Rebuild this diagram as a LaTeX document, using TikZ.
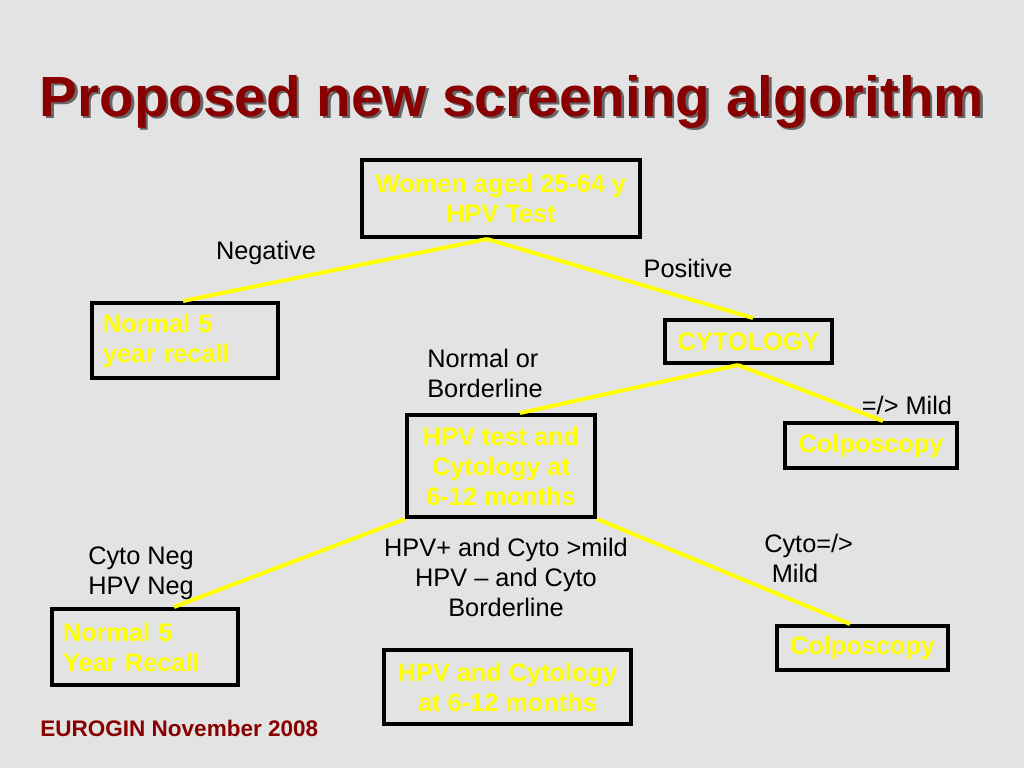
\documentclass[tikz,border=0pt]{standalone}
\usepackage{fontspec}
\setmainfont{Liberation Sans}
\usetikzlibrary{calc}
\definecolor{bg}{RGB}{227,227,227}
\definecolor{ttl}{RGB}{136,0,0}
\definecolor{yel}{RGB}{255,255,0}
\begin{document}
\begin{tikzpicture}[x=0.75pt,y=-0.75pt,
  box/.style={draw=black,line width=3pt,inner sep=0pt,align=center,
    font=\fontsize{19pt}{22.5pt}\selectfont\bfseries,text=yel},
  leftbox/.style={box,align=left,inner xsep=8.25pt},
  lbl/.style={inner sep=0pt,font=\fontsize{19pt}{22.5pt}\selectfont,text=black},
  conn/.style={draw=yel,line width=3pt}]
\fill[bg] (0,0) rectangle (1024,768);
\useasboundingbox (0,0) rectangle (1024,768);
% title
\node[anchor=base,text=black!60,font=\fontsize{42.5pt}{50pt}\selectfont\bfseries] (ttlsh) at (514.5,118.5) {Proposed new screening algorithm};
\node[anchor=base,text=ttl,font=\fontsize{42.5pt}{50pt}\selectfont\bfseries] (title) at (512,116) {Proposed new screening algorithm};
% boxes
\node[box,minimum width=208.5pt,minimum height=57.75pt] (b1) at (501,198.5) {Women aged 25-64 y\\HPV Test};
\node[leftbox,text width=123pt,minimum height=56.25pt] (b2) at (185,340.5) {Normal 5\\year recall};
\node[box,minimum width=125.25pt,minimum height=32.25pt] (b3) at (748.5,341.5) {CYTOLOGY};
\node[box,minimum width=141pt,minimum height=76.5pt] (b4) at (501,466) {HPV test and\\Cytology at\\6-12 months};
\node[box,minimum width=129pt,minimum height=33.75pt] (b5) at (871,445.5) {Colposcopy};
\node[leftbox,text width=123pt,minimum height=57pt] (b6) at (145,647) {Normal 5\\Year Recall};
\node[box,minimum width=185.25pt,minimum height=55.5pt] (b7) at (507.5,687) {HPV and Cytology\\at 6-12 months};
\node[box,minimum width=128.25pt,minimum height=33pt] (b8) at (862.5,648) {Colposcopy};
% connectors
\draw[conn] ($(b1.south)+(-14,0)$) -- ($(b2.north)+(-2,0)$);
\draw[conn] ($(b1.south)+(-14,0)$) -- ($(b3.north)+(4.5,0)$);
\draw[conn] ($(b3.south)+(-10.5,0)$) -- ($(b4.north)+(19,0)$);
\draw[conn] ($(b3.south)+(-10.5,0)$) -- ($(b5.north)+(12,0)$);
\draw[conn] (b4.south west) -- ($(b6.north)+(29,0)$);
\draw[conn] (b4.south east) -- ($(b8.north)+(-12.5,0)$);
% labels
\node[lbl] (lneg) at (266,253) {Negative};
\node[lbl] (lpos) at (688,268) {Positive};
\node[lbl,anchor=west,align=left] (lnorm) at (427,373) {Normal or\\Borderline};
\node[lbl] (lmild) at (907,405) {=/> Mild};
\node[lbl,anchor=west,align=left] (lcneg) at (88,573.5) {Cyto Neg\\HPV Neg};
\node[lbl,align=center] (lhpv) at (506,577) {HPV+ and Cyto >mild\\HPV – and Cyto\\Borderline};
\node[lbl,anchor=west,align=left] (lcmild) at (764,558) {Cyto=/>\\\hspace{0.3em}Mild};
% footer
\node[anchor=west,inner sep=0pt,text=ttl,font=\fontsize{16.9pt}{20pt}\selectfont\bfseries] (foot) at (40,728) {EUROGIN November 2008};
\end{tikzpicture}
\end{document}
